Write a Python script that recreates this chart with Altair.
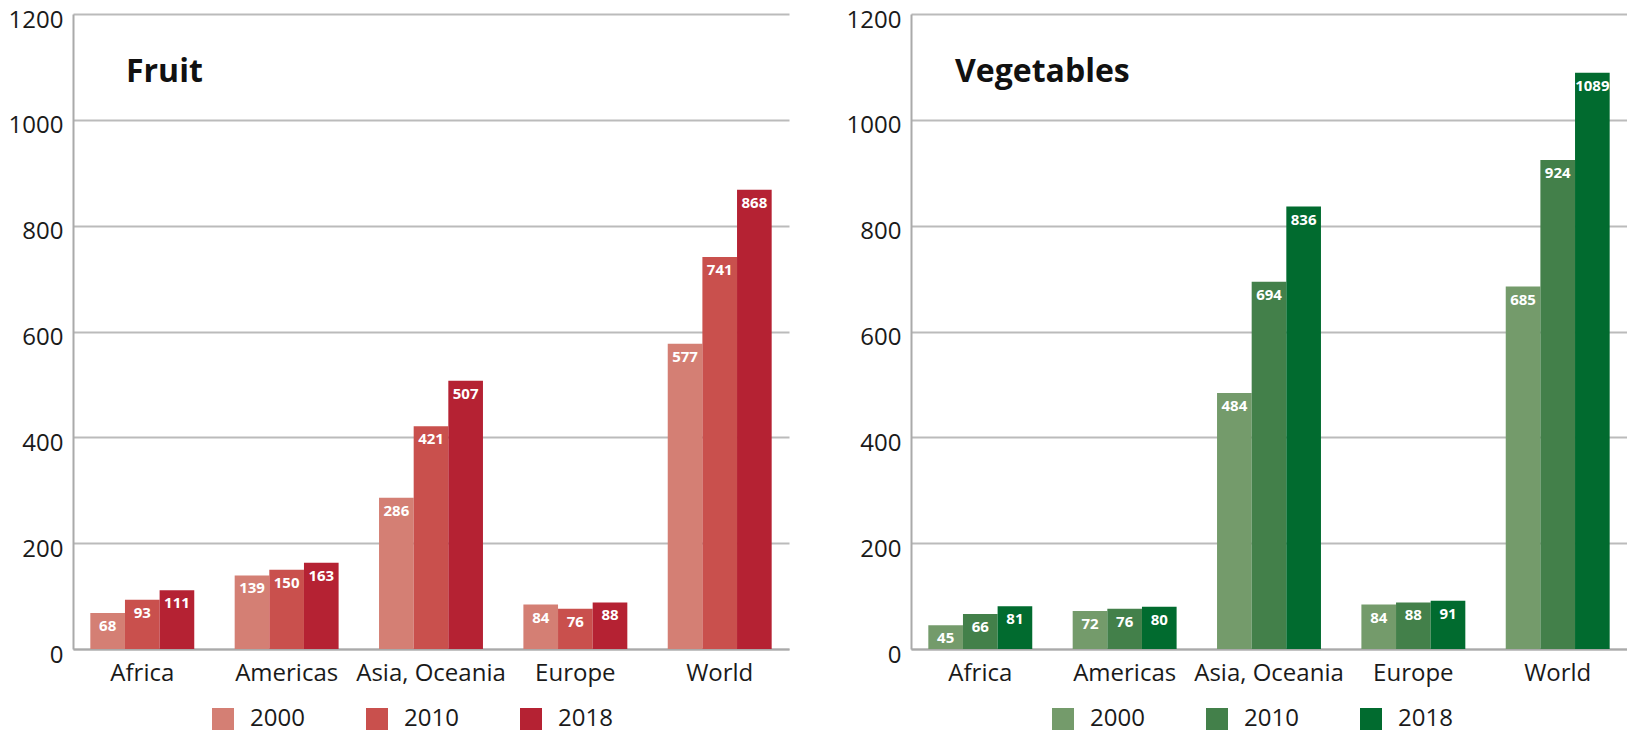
import altair as alt
import pandas as pd

regions = ["Africa", "Americas", "Asia, Oceania", "Europe", "World"]
years = ["2000", "2010", "2018"]

fruit_2000 = [68, 139, 286, 84, 577]
fruit_2010 = [93, 150, 421, 76, 741]
fruit_2018 = [111, 163, 507, 88, 868]

veg_2000 = [45, 72, 484, 84, 685]
veg_2010 = [66, 76, 694, 88, 924]
veg_2018 = [81, 80, 836, 91, 1089]

fruit_colors = ["#D47F74", "#C9504D", "#B52233"]
veg_colors = ["#749B6B", "#43804A", "#016B2F"]

y_ticks = [0, 200, 400, 600, 800, 1000, 1200]

FONT = "Open Sans"
W = 716
H = 635


def build_df(s2000, s2010, s2018):
    rows = []
    for i, r in enumerate(regions):
        for y, s in zip(years, [s2000, s2010, s2018]):
            rows.append({"region": r, "year": y, "value": s[i]})
    return pd.DataFrame(rows)


def panel(df, title, colors, title_dx, legend_x):
    base = alt.Chart(df).encode(
        x=alt.X("region:N", sort=regions, title=None,
                scale=alt.Scale(paddingInner=0.28, paddingOuter=0.12),
                axis=alt.Axis(labelAngle=0, labelFontSize=24, labelFont=FONT,
                              labelColor="#1a1a1a", labelPadding=12, ticks=False,
                              domainColor="#aaaaaa", domainWidth=2, labelLimit=300,
                              grid=False)),
        xOffset=alt.XOffset("year:N", sort=years,
                            scale=alt.Scale(paddingInner=0, paddingOuter=0)),
        y=alt.Y("value:Q", title=None,
                scale=alt.Scale(domain=[0, 1200], nice=False),
                axis=alt.Axis(values=y_ticks, format="d", labelFontSize=24,
                              labelFont=FONT,
                              labelColor="#1a1a1a", labelPadding=10, ticks=False,
                              labelBaseline="middle", labelOffset=6,
                              domainColor="#aaaaaa", domainWidth=2,
                              gridColor="#bbbbbb", gridWidth=2)),
    )
    bars = base.mark_bar().encode(
        color=alt.Color("year:N", sort=years,
                        scale=alt.Scale(domain=years, range=colors),
                        legend=alt.Legend(title=None, orient="none",
                                          direction="horizontal",
                                          legendX=legend_x, legendY=H + 58,
                                          symbolType="square", symbolSize=484,
                                          symbolStrokeWidth=0,
                                          symbolOpacity=1,
                                          labelFontSize=24, labelFont=FONT,
                                          labelColor="#1a1a1a", labelOffset=15,
                                          columnPadding=60))
    )
    labels = base.mark_text(baseline="middle", dy=13, color="white",
                            fontWeight="bold", fontSize=15, font=FONT).encode(
        text=alt.Text("value:Q")
    )
    title_df = pd.DataFrame({"t": [title]})
    ttl = alt.Chart(title_df).mark_text(align="left", baseline="alphabetic",
                                        fontSize=32, fontWeight="bold",
                                        font=FONT, color="#111111").encode(
        x=alt.value(title_dx), y=alt.value(68), text="t:N"
    )
    return alt.layer(bars, labels, ttl).properties(width=W, height=H)


fruit = panel(build_df(fruit_2000, fruit_2010, fruit_2018), "Fruit",
              fruit_colors, 53, 138)
veg = panel(build_df(veg_2000, veg_2010, veg_2018), "Vegetables",
            veg_colors, 44, 140)

chart = alt.hconcat(fruit, veg, spacing=57).resolve_scale(
    color="independent"
).configure(font=FONT, padding=0).configure_view(stroke=None)

chart.save("out.html", embed_options={"renderer": "svg", "actions": False})
